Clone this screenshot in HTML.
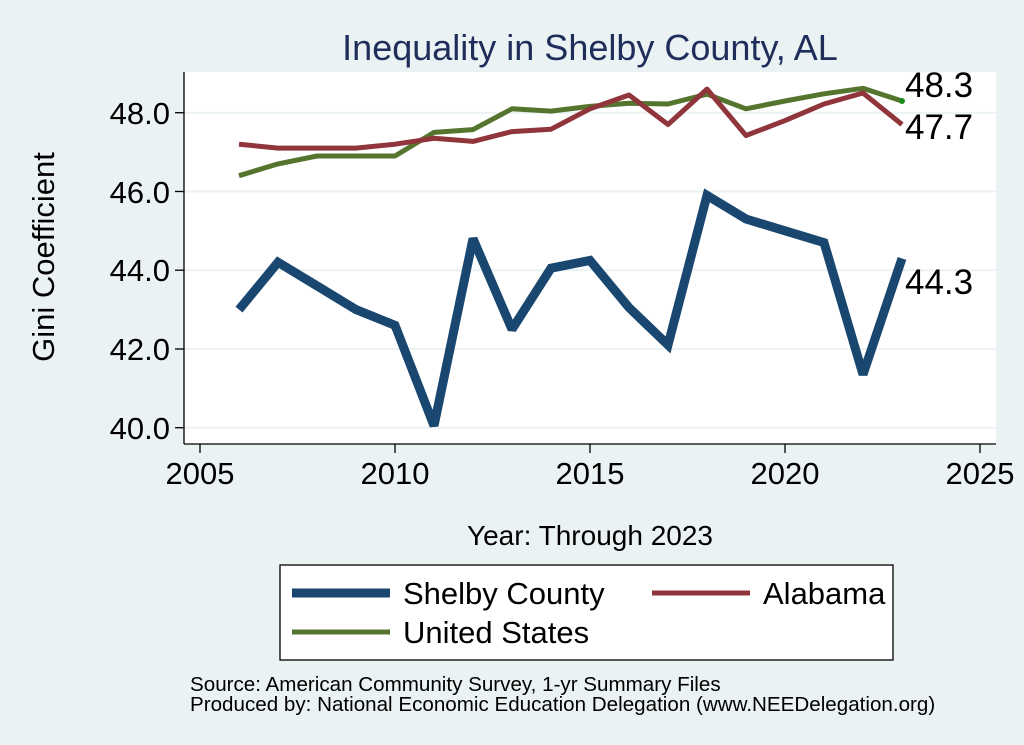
<!DOCTYPE html>
<html><head><meta charset="utf-8"><style>
body{margin:0;background:#eaf2f3;}
svg{display:block;font-family:"Liberation Sans",Arial,sans-serif;}
</style></head><body>
<svg width="1024" height="745" viewBox="0 0 1024 745">
<rect width="1024" height="745" fill="#eaf2f3"/>
<rect x="184" y="72" width="812" height="372" fill="#fff"/>
<g stroke="#eaf2f3" stroke-width="2">
<line x1="184" x2="996" y1="112.7" y2="112.7"/>
<line x1="184" x2="996" y1="191.5" y2="191.5"/>
<line x1="184" x2="996" y1="270.2" y2="270.2"/>
<line x1="184" x2="996" y1="349" y2="349"/>
<line x1="184" x2="996" y1="427.7" y2="427.7"/>
</g>
<g stroke="#000" stroke-width="1.3" fill="none">
<line x1="184" y1="72" x2="184" y2="444"/>
<line x1="184" y1="444" x2="996" y2="444"/>
<line x1="175" x2="184" y1="112.7" y2="112.7"/>
<line x1="175" x2="184" y1="191.5" y2="191.5"/>
<line x1="175" x2="184" y1="270.2" y2="270.2"/>
<line x1="175" x2="184" y1="349" y2="349"/>
<line x1="175" x2="184" y1="427.7" y2="427.7"/>
<line x1="200" x2="200" y1="444" y2="453"/>
<line x1="395" x2="395" y1="444" y2="453"/>
<line x1="590" x2="590" y1="444" y2="453"/>
<line x1="785" x2="785" y1="444" y2="453"/>
<line x1="980" x2="980" y1="444" y2="453"/>
</g>
<g font-size="31" text-anchor="end" fill="#000">
<text x="170" y="124">48.0</text>
<text x="170" y="203">46.0</text>
<text x="170" y="281">44.0</text>
<text x="170" y="360">42.0</text>
<text x="170" y="439">40.0</text>
</g>
<g font-size="31" text-anchor="middle" fill="#000">
<text x="200" y="484">2005</text>
<text x="395" y="484">2010</text>
<text x="590" y="484">2015</text>
<text x="785" y="484">2020</text>
<text x="980" y="484">2025</text>
<text x="590" y="545" font-size="28">Year: Through 2023</text>
</g>
<text transform="translate(54,257) rotate(-90)" font-size="31" text-anchor="middle">Gini Coefficient</text>
<text x="590" y="60" font-size="36" text-anchor="middle" fill="#1e2d5a">Inequality in Shelby County, AL</text>
<polyline fill="none" stroke="#55752f" stroke-width="5" stroke-linejoin="round" points="239,175.7 278,163.9 317,156 356,156 395,156 434,132.4 473,129.6 512,108.8 551,111.1 590,106.4 629,103.3 668,104 707,94.2 746,108.8 785,101 824,93.8 863,88.3 902,101"/>
<polyline fill="none" stroke="#90353b" stroke-width="5" stroke-linejoin="round" points="239,144.2 278,148.1 317,148.1 356,148.1 395,144.2 434,138.3 473,141.4 512,131.6 551,129.2 590,108.8 629,95 668,124.5 707,89.1 746,135.5 785,120.6 824,104 863,93 902,124.5"/>
<polyline fill="none" stroke="#1a476f" stroke-width="9" stroke-linejoin="miter" stroke-miterlimit="2" points="239,309.6 278,262.3 317,285.9 356,309.6 395,325.3 434,425.7 473,238.7 512,329.3 551,268.2 590,260.4 629,307.6 668,345 707,195.4 746,219 785,230.8 824,242.6 863,374.5 902,258.4"/>
<circle cx="902" cy="101" r="3" fill="#1a8a1a"/>
<g font-size="35" fill="#000">
<text x="905" y="97">48.3</text>
<text x="905" y="139">47.7</text>
<text x="905" y="294">44.3</text>
</g>
<rect x="280" y="565" width="613" height="95" fill="#fff" stroke="#000" stroke-width="1.3"/>
<line x1="292" x2="390" y1="593" y2="593" stroke="#1a476f" stroke-width="9"/>
<line x1="652" x2="750" y1="593" y2="593" stroke="#90353b" stroke-width="5"/>
<line x1="292" x2="390" y1="632" y2="632" stroke="#55752f" stroke-width="5"/>
<g font-size="31" fill="#000">
<text x="403" y="604">Shelby County</text>
<text x="763" y="604">Alabama</text>
<text x="403" y="643">United States</text>
</g>
<g font-size="20.6" fill="#000">
<text x="190" y="691">Source: American Community Survey, 1-yr Summary Files</text>
<text x="190" y="711">Produced by: National Economic Education Delegation (www.NEEDelegation.org)</text>
</g>
</svg>
</body></html>
